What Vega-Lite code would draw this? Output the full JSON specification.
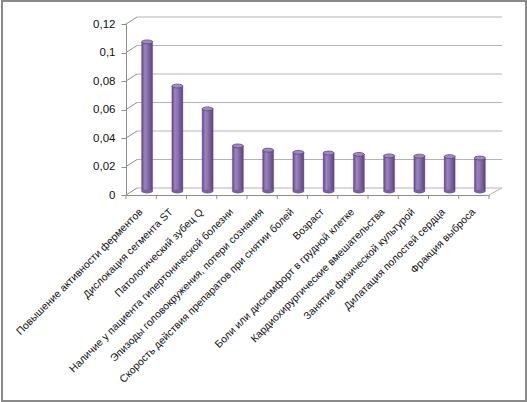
{
  "$schema": "https://vega.github.io/schema/vega-lite/v6.json",
  "width": 524,
  "height": 400,
  "autosize": "none",
  "padding": {"left": 2, "top": 1, "right": 1, "bottom": 1},
  "datasets": {
    "factors": [
      {"factor": "Повышение активности ферментов", "value": 0.105},
      {"factor": "Дислокация сегмента ST", "value": 0.074},
      {"factor": "Патологический зубец Q", "value": 0.058},
      {"factor": "Наличие у пациента гипертонической болезни", "value": 0.032},
      {"factor": "Эпизоды головокружения, потери сознания", "value": 0.029},
      {"factor": "Скорость действия препаратов при снятии болей", "value": 0.0275},
      {"factor": "Возраст", "value": 0.027},
      {"factor": "Боли или дискомфорт в грудной клетке", "value": 0.026},
      {"factor": "Кардиохирургические вмешательства", "value": 0.025},
      {"factor": "Занятие физической культурой", "value": 0.0248},
      {"factor": "Дилатация полостей сердца", "value": 0.0245},
      {"factor": "Фракция выброса", "value": 0.0235}
    ],
    "gridlines": [
      {"value": 0}, {"value": 0.02}, {"value": 0.04}, {"value": 0.06},
      {"value": 0.08}, {"value": 0.1}, {"value": 0.12}
    ]
  },
  "encoding": {
    "x": {
      "field": "factor",
      "type": "nominal",
      "sort": null,
      "scale": {
        "domain": [
          "Повышение активности ферментов",
          "Дислокация сегмента ST",
          "Патологический зубец Q",
          "Наличие у пациента гипертонической болезни",
          "Эпизоды головокружения, потери сознания",
          "Скорость действия препаратов при снятии болей",
          "Возраст",
          "Боли или дискомфорт в грудной клетке",
          "Кардиохирургические вмешательства",
          "Занятие физической культурой",
          "Дилатация полостей сердца",
          "Фракция выброса"
        ],
        "range": [124, 487],
        "paddingInner": 0,
        "paddingOuter": 0
      },
      "axis": {
        "orient": "bottom",
        "offset": -206,
        "title": null,
        "domainColor": "#8c8c8c",
        "ticks": false,
        "labelAngle": -45,
        "labelAlign": "right",
        "labelBaseline": "middle",
        "labelPadding": 15,
        "labelFont": "Liberation Sans",
        "labelFontSize": 10.5,
        "labelColor": "#111111",
        "labelLimit": 400,
        "labelOverlap": false
      }
    },
    "y": {
      "field": "value",
      "type": "quantitative",
      "scale": {"domain": [0, 0.12], "nice": false, "range": [194, 23]},
      "axis": {
        "orient": "left",
        "offset": -124,
        "title": null,
        "values": [0, 0.02, 0.04, 0.06, 0.08, 0.1, 0.12],
        "labelExpr": "replace(format(datum.value, '~g'), '.', ',')",
        "domainColor": "#8c8c8c",
        "tickColor": "#8c8c8c",
        "tickSize": 5,
        "labelPadding": 6,
        "labelFont": "Liberation Sans",
        "labelFontSize": 11.5,
        "labelColor": "#111111",
        "grid": false
      }
    }
  },
  "layer": [
    {
      "data": {"name": "gridlines"},
      "mark": {"type": "rule", "color": "#b4b4b4", "strokeWidth": 1, "xOffset": 11, "x2Offset": 13, "yOffset": -7, "y2Offset": -7},
      "encoding": {
        "x": {"datum": "Повышение активности ферментов", "bandPosition": 0},
        "x2": {"datum": "Фракция выброса", "bandPosition": 1},
        "y2": {"field": "value"}
      }
    },
    {
      "data": {"name": "gridlines"},
      "mark": {"type": "rule", "color": "#8c8c8c", "strokeWidth": 1, "x2Offset": 11, "y2Offset": -7},
      "encoding": {
        "x": {"datum": "Повышение активности ферментов", "bandPosition": 0},
        "x2": {"datum": "Повышение активности ферментов", "bandPosition": 0},
        "y2": {"field": "value"}
      }
    },
    {
      "data": {"name": "gridlines"},
      "transform": [{"filter": "datum.value == 0"}],
      "mark": {"type": "rule", "color": "#b4b4b4", "strokeWidth": 1, "x2Offset": 13, "y2Offset": -7},
      "encoding": {
        "x": {"datum": "Фракция выброса", "bandPosition": 1},
        "x2": {"datum": "Фракция выброса", "bandPosition": 1},
        "y2": {"field": "value"}
      }
    },
    {
      "data": {"name": "factors"},
      "mark": {
        "type": "bar",
        "size": 11,
        "xOffset": 6,
        "yOffset": -3.5,
        "y2Offset": -3.5,
        "stroke": "#5e4883",
        "strokeWidth": 0.4,
        "fill": {
          "gradient": "linear",
          "x1": 0, "x2": 1, "y1": 0, "y2": 0,
          "stops": [
            {"offset": 0, "color": "#5f4983"},
            {"offset": 0.3, "color": "#9c84c2"},
            {"offset": 0.6, "color": "#8468a9"},
            {"offset": 1, "color": "#5a447a"}
          ]
        }
      },
      "encoding": {
        "y2": {"datum": 0},
        "tooltip": [{"field": "factor"}, {"field": "value"}]
      }
    },
    {
      "data": {"name": "factors"},
      "mark": {
        "type": "point",
        "shape": "M -1 0 A 1 0.35 0 1 1 1 0 A 1 0.35 0 1 1 -1 0 Z",
        "size": 121,
        "filled": true,
        "fill": "#7b609f",
        "strokeWidth": 0,
        "opacity": 1,
        "xOffset": 6,
        "yOffset": -3.5
      },
      "encoding": {"y": {"datum": 0}}
    },
    {
      "data": {"name": "factors"},
      "mark": {
        "type": "point",
        "shape": "M -1 0 A 1 0.35 0 1 1 1 0 A 1 0.35 0 1 1 -1 0 Z",
        "size": 121,
        "filled": true,
        "fill": "#9f8ac6",
        "stroke": "#5a4480",
        "strokeWidth": 0.8,
        "opacity": 1,
        "xOffset": 6,
        "yOffset": -3.5
      }
    },
    {
      "data": {"name": "factors"},
      "mark": {"type": "rule", "color": "#8c8c8c", "y2Offset": 4},
      "encoding": {
        "x": {"field": "factor", "type": "nominal", "bandPosition": 0},
        "y": {"datum": 0},
        "y2": {"datum": 0}
      }
    },
    {
      "data": {"name": "gridlines"},
      "transform": [{"filter": "datum.value == 0"}],
      "mark": {"type": "rule", "color": "#8c8c8c", "y2Offset": 4},
      "encoding": {
        "x": {"datum": "Фракция выброса", "bandPosition": 1},
        "y2": {"field": "value"}
      }
    }
  ],
  "config": {
    "view": {"stroke": "#8a8a8a", "strokeWidth": 2},
    "background": "#ffffff"
  }
}
